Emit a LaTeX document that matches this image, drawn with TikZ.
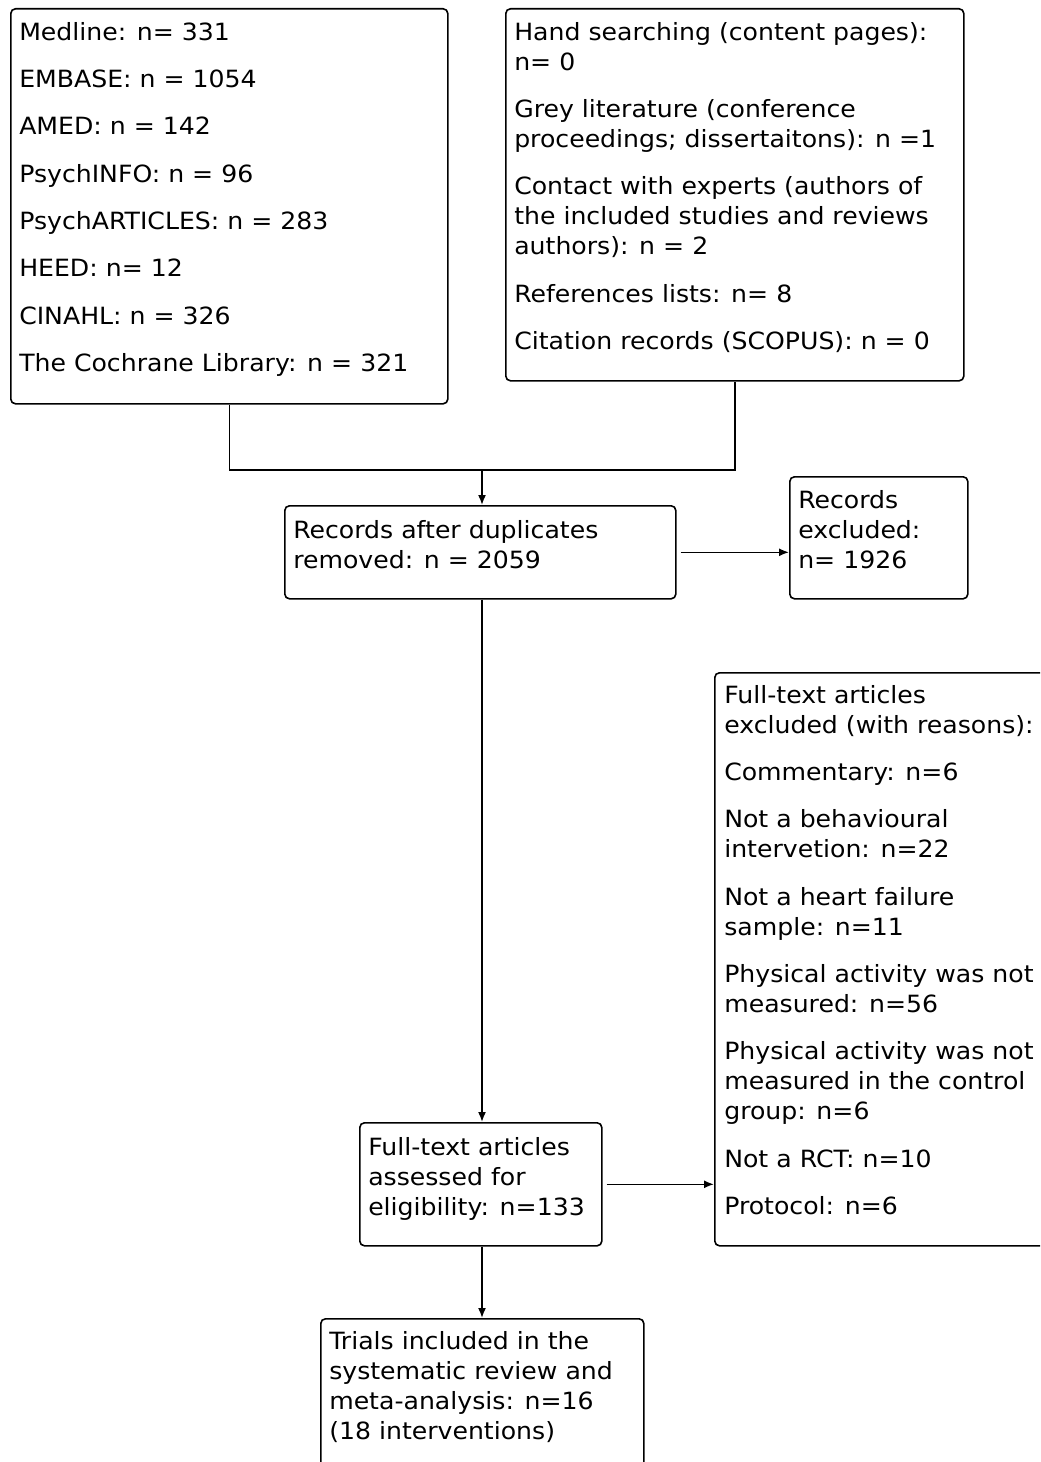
\documentclass[tikz,border=0pt]{standalone}
\usepackage{fontspec}
\newfontfamily\flowfont[FakeStretch=1.06]{DejaVu Sans}
\usetikzlibrary{arrows.meta}
\begin{document}
\begin{tikzpicture}[x=0.75pt,y=-0.75pt]
\tikzset{
  box/.style={draw, line width=1.2pt, rounded corners=3.5pt, inner sep=0pt, anchor=north west},
  txt/.style={anchor=north west, inner sep=0pt, align=left,
              font=\flowfont\fontsize{17.8pt}{22.5pt}\selectfont},
  link/.style={line width=1.2pt},
  arr/.style={line width=1.2pt, -{Latex[length=7.5pt,width=6pt]}}
}
\newcommand{\firstline}{\rule{0pt}{20pt}}
\newcommand{\gap}{\\[13pt]}
\useasboundingbox (0,0) rectangle (1040,1462);
\clip (0,0) rectangle (1040,1462);

% boxes
\node[box, minimum width=327.75pt, minimum height=296.25pt] (A) at (10,8) {};
\node[box, minimum width=343.5pt,  minimum height=279pt]    (B) at (505,8) {};
\node[box, minimum width=293.25pt, minimum height=69.75pt]  (C) at (284,505) {};
\node[box, minimum width=133.5pt,  minimum height=91.5pt]   (D) at (789,476) {};
\node[box, minimum width=259.5pt,  minimum height=429.75pt] (F) at (714,672) {};
\node[box, minimum width=181.5pt,  minimum height=92.25pt]  (E) at (359,1122) {};
\node[box, minimum width=242.25pt, minimum height=120pt]    (G) at (320,1318) {};

% texts
\node[txt] (tA) at (19,13.3) {\firstline Medline: n= 331\gap EMBASE: n = 1054\gap AMED: n = 142\gap
  PsychINFO: n = 96\gap PsychARTICLES: n = 283\gap HEED: n= 12\gap CINAHL: n = 326\gap
  The Cochrane Library: n = 321};
\node[txt] (tB) at (514,13.3) {\firstline Hand searching (content pages):\\ n= 0\gap
  Grey literature (conference\\ proceedings; dissertaitons): n =1\gap
  Contact with experts (authors of\\ the included studies and reviews\\ authors): n = 2\gap
  References lists: n= 8\gap Citation records (SCOPUS): n = 0};
\node[txt] (tC) at (293,511.3) {\firstline Records after duplicates\\ removed: n = 2059};
\node[txt] (tD) at (798,481.3) {\firstline Records\\ excluded:\\ n= 1926};
\node[txt] (tF) at (724,676.3) {\firstline Full-text articles\\ excluded (with reasons):\gap
  Commentary: n=6\gap Not a behavioural\\ intervetion: n=22\gap
  Not a heart failure\\ sample: n=11\gap Physical activity was not\\ measured: n=56\gap
  Physical activity was not\\ measured in the control\\ group: n=6\gap
  Not a RCT: n=10\gap Protocol: n=6};
\node[txt] (tE) at (368,1128.3) {\firstline Full-text articles\\ assessed for\\ eligibility: n=133};
\node[txt] (tG) at (329,1322.3) {\firstline Trials included in the\\ systematic review and\\ meta-analysis: n=16\\ (18 interventions)};

% connectors
\coordinate (J) at (482,470);
\draw[link] (A.south) |- (J) -| (B.south);
\draw[arr] (J) -- (J |- C.north);
\draw[arr, shorten <=3pt] (C.east) -- (D.west |- C.east);
\draw[arr] (C.south -| J) -- (J |- E.north);
\draw[arr, shorten <=3pt] (E.east) -- (F.west |- E.east);
\draw[arr] (E.south -| J) -- (J |- G.north);
\end{tikzpicture}
\end{document}
